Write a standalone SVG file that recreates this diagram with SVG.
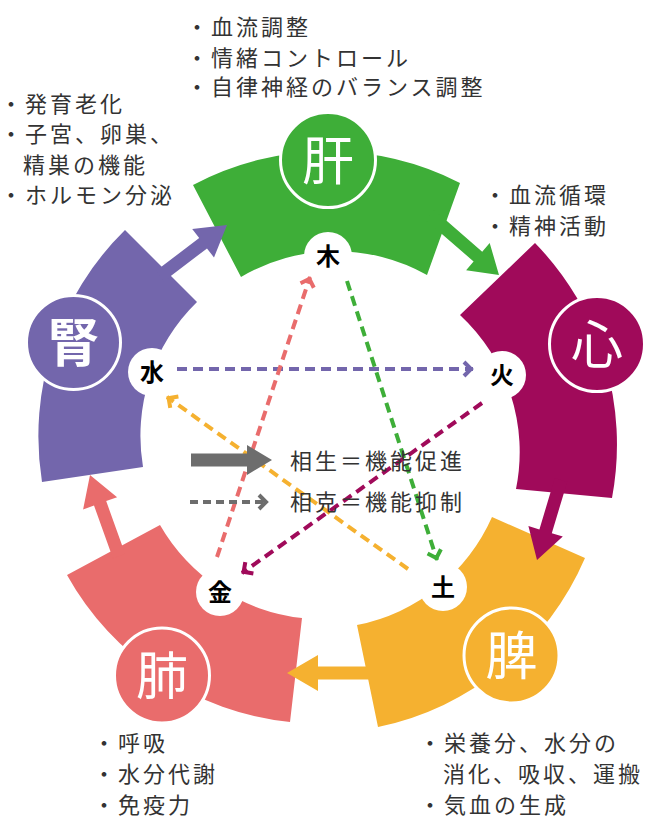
<svg xmlns="http://www.w3.org/2000/svg" width="665" height="840" viewBox="0 0 665 840">
<style>
.t{font-family:"Noto Sans CJK JP","Noto Sans CJK SC",sans-serif;font-size:22px;letter-spacing:3px;fill:#333}
.big{font-family:"Noto Sans CJK JP","Noto Sans CJK SC",sans-serif;font-size:52px;fill:#fff;text-anchor:middle}
.el{font-family:"Noto Sans CJK JP","Noto Sans CJK SC",sans-serif;font-size:24px;font-weight:bold;fill:#000;text-anchor:middle}
.bc{stroke:#fff;stroke-width:3}
.sc{fill:#fff}
.d{fill:none;stroke-width:4;stroke-dasharray:10 6}
</style>
<defs>
<marker id="mG" markerUnits="userSpaceOnUse" markerWidth="20" markerHeight="20" viewBox="-12 -10 14 20" refX="0" refY="0" orient="auto"><path d="M-9,-7 L-2,0 L-9,7" fill="none" stroke="#3eae38" stroke-width="4"/></marker>
<marker id="mM" markerUnits="userSpaceOnUse" markerWidth="20" markerHeight="20" viewBox="-12 -10 14 20" refX="0" refY="0" orient="auto"><path d="M-9,-7 L-2,0 L-9,7" fill="none" stroke="#a00a5a" stroke-width="4"/></marker>
<marker id="mY" markerUnits="userSpaceOnUse" markerWidth="20" markerHeight="20" viewBox="-12 -10 14 20" refX="0" refY="0" orient="auto"><path d="M-9,-7 L-2,0 L-9,7" fill="none" stroke="#f5b130" stroke-width="4"/></marker>
<marker id="mP" markerUnits="userSpaceOnUse" markerWidth="20" markerHeight="20" viewBox="-12 -10 14 20" refX="0" refY="0" orient="auto"><path d="M-9,-7 L-2,0 L-9,7" fill="none" stroke="#e96c6c" stroke-width="4"/></marker>
<marker id="mU" markerUnits="userSpaceOnUse" markerWidth="20" markerHeight="20" viewBox="-12 -10 14 20" refX="0" refY="0" orient="auto"><path d="M-9,-7 L-2,0 L-9,7" fill="none" stroke="#7366ac" stroke-width="4"/></marker>
<marker id="mK" markerUnits="userSpaceOnUse" markerWidth="20" markerHeight="20" viewBox="-12 -10 14 20" refX="0" refY="0" orient="auto"><path d="M-9,-7 L-2,0 L-9,7" fill="none" stroke="#6d6d6d" stroke-width="4"/></marker>
</defs>
<rect width="665" height="840" fill="#fff"/>

<g id="liver">
<path d="M193,185 A289,289 0 0 1 460,183 L427,275 A187,187 0 0 0 241,277 Z" fill="#3eae38"/>
<circle class="bc" cx="328" cy="160" r="47.5" fill="#3eae38"/>
<text class="big" x="328" y="179.5">肝</text>
<text class="t" x="186" y="35">・血流調整</text>
<text class="t" x="186" y="65.5">・情緒コントロール</text>
<text class="t" x="186" y="95">・自律神経のバランス調整</text>
</g>
<g id="heart">
<path d="M535,243 A289,289 0 0 1 612,498 L516,489 A187,187 0 0 0 460,315 Z" fill="#a00a5a"/>
<circle class="bc" cx="597" cy="344" r="47.5" fill="#a00a5a"/>
<text class="big" x="597" y="363.5">心</text>
<text class="t" x="484" y="203">・血流循環</text>
<text class="t" x="484" y="234">・精神活動</text>
</g>
<g id="spleen">
<path d="M585,558 A289,289 0 0 1 378,727 L357,625 A187,187 0 0 0 492,517 Z" fill="#f5b130"/>
<circle class="bc" cx="511.5" cy="655.5" r="47.5" fill="#f5b130"/>
<text class="big" x="511.5" y="675">脾</text>
<text class="t" x="419" y="751">・栄養分、水分の</text>
<text class="t" x="443" y="782">消化、吸収、運搬</text>
<text class="t" x="419" y="813">・気血の生成</text>
</g>
<g id="lung">
<path d="M290,722 A289,289 0 0 1 67,575 L160,525 A187,187 0 0 0 302,618 Z" fill="#e96c6c"/>
<circle class="bc" cx="162" cy="675.5" r="47.5" fill="#e96c6c"/>
<text class="big" x="162" y="695">肺</text>
<text class="t" x="93" y="751">・呼吸</text>
<text class="t" x="93" y="782">・水分代謝</text>
<text class="t" x="93" y="813">・免疫力</text>
</g>
<g id="kidney">
<path d="M42,482 A289,289 0 0 1 125,230 L197,302 A187,187 0 0 0 143,467 Z" fill="#7366ac"/>
<circle class="bc" cx="73.5" cy="342.5" r="47" fill="#7366ac"/>
<text class="big" x="73.5" y="362" font-weight="bold">腎</text>
<text class="t" x="0" y="112">・発育老化</text>
<text class="t" x="0" y="142">・子宮、卵巣、</text>
<text class="t" x="23" y="173">精巣の機能</text>
<text class="t" x="0" y="203">・ホルモン分泌</text>
</g>

<g id="wood"><circle class="sc" cx="328" cy="256" r="24"/><text class="el" x="328" y="265">木</text></g>
<g id="fire"><circle class="sc" cx="502" cy="375" r="24"/><text class="el" x="502" y="384">火</text></g>
<g id="earth"><circle class="sc" cx="443" cy="587" r="24"/><text class="el" x="443" y="596">土</text></g>
<g id="metal"><circle class="sc" cx="220" cy="592" r="24"/><text class="el" x="220" y="601">金</text></g>
<g id="water"><circle class="sc" cx="152" cy="372" r="24"/><text class="el" x="152" y="381">水</text></g>

<g id="connectors">
<polygon fill="#3eae38" points="425.7,219.9 473.6,261.5 466.1,270.2 499,275 489.7,243.0 482.2,251.7 434.3,210.1"/>
<polygon fill="#a00a5a" points="554.8,478.1 539.4,529.4 528.4,526.1 537,560 562.8,536.5 551.8,533.2 567.2,481.9"/>
<polygon fill="#f5b130" points="372,666.5 318,666.5 318,655 287,673 318,691 318,679.5 372,679.5"/>
<polygon fill="#e96c6c" points="125.1,553.8 106.2,501.1 117.1,497.2 90,475 83.1,509.4 94.0,505.5 112.9,558.2"/>
<polygon fill="#7366ac" points="163.9,281.2 207.0,248.4 214.0,257.5 227,225 192.2,228.9 199.2,238.0 156.1,270.8"/>
<line class="d" x1="177" y1="369" x2="473" y2="369" stroke="#7366ac" marker-end="url(#mU)"/>
<line class="d" x1="347" y1="281" x2="437" y2="560" stroke="#3eae38" marker-end="url(#mG)"/>
<line class="d" x1="217" y1="557" x2="310" y2="277" stroke="#e96c6c" marker-end="url(#mP)"/>
<line class="d" x1="482" y1="403" x2="242" y2="573" stroke="#a00a5a" marker-end="url(#mM)"/>
<line class="d" x1="408" y1="569" x2="167" y2="397" stroke="#f5b130" marker-end="url(#mY)"/>
</g>

<g id="legend">
<polygon fill="#6d6d6d" points="191,453.5 247,453.5 247,445 272,460 247,475 247,466.5 191,466.5"/>
<line x1="190" y1="502" x2="268" y2="502" stroke="#6d6d6d" stroke-width="4" stroke-dasharray="8 5" marker-end="url(#mK)"/>
<text class="t" x="290" y="469">相生＝機能促進</text>
<text class="t" x="290" y="510">相克＝機能抑制</text>
</g>
</svg>
